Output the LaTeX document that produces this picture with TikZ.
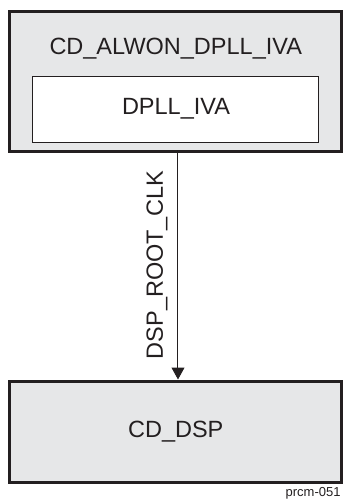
\documentclass[tikz,border=0pt]{standalone}
\usepackage{fontspec}
\setmainfont{Liberation Sans}
\usetikzlibrary{arrows.meta,calc}
\definecolor{cdgray}{RGB}{230,231,232}
\definecolor{tiink}{RGB}{35,31,32}

\begin{document}
\begin{tikzpicture}[x=0.5pt, y=-0.5pt, text=tiink,
  cdbox/.style={draw=tiink, line width=1.5pt, fill=cdgray, inner sep=0pt},
  lbl/.style={font=\fontsize{11.75}{14}\selectfont, inner sep=0pt}]
\useasboundingbox (0,0) rectangle (343,500);
% clock domains
\node[cdbox, minimum width=165.75pt, minimum height=70pt](alwon)at(175.75,81){};
\node[lbl](alwontxt)at(175.75,49){CD\_ALWON\_DPLL\_IVA};
\node[lbl, draw=tiink, fill=white, line width=0.5pt, minimum width=143pt, minimum height=33pt](dpll)at(176,109){DPLL\_IVA};
\node[cdbox, lbl, minimum width=165.75pt, minimum height=50.5pt](dsp)at(175.75,431.5){CD\_DSP};
% clock
\coordinate(clk)at(178,151);
\path[draw=tiink, line width=0.5pt, -{Triangle[width=6.5pt, length=6pt]}](clk)to node[lbl, midway, rotate=90, anchor=south, inner ysep=5pt]{DSP\_ROOT\_CLK}(clk|-dsp.north);
\node[font=\fontsize{6.5}{8}\selectfont, anchor=base east, inner sep=0pt](fig)at(341,496){prcm-051};
\end{tikzpicture}
\end{document}
